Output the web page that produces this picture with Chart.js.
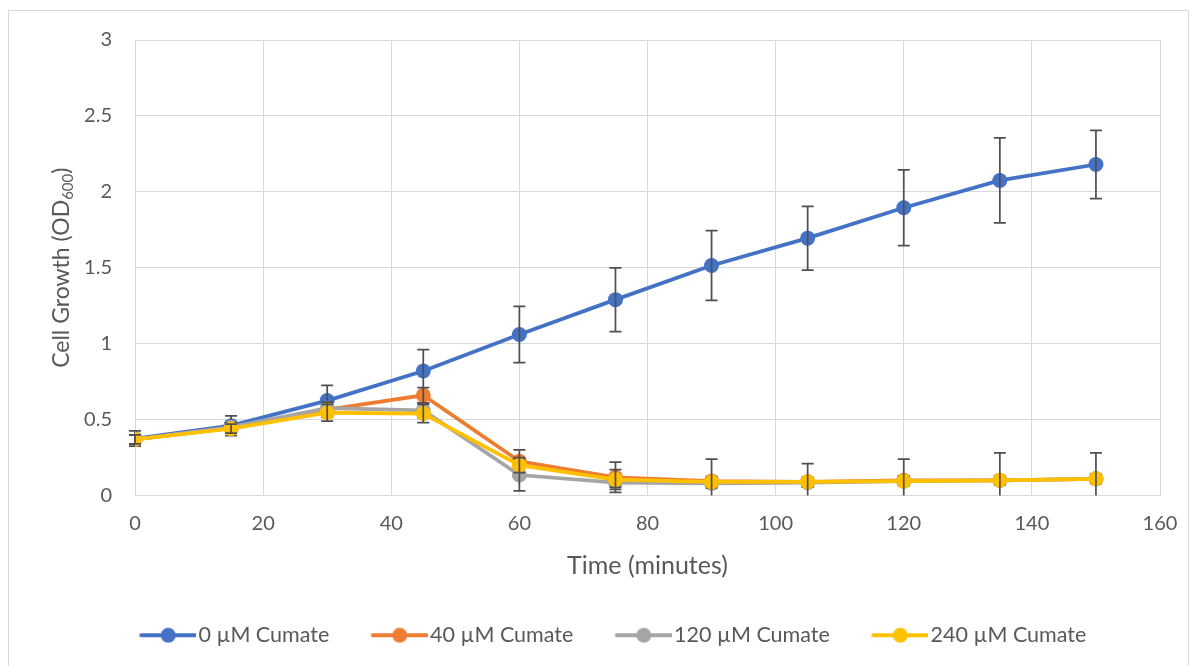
<!DOCTYPE html>
<html>
<head>
<meta charset="utf-8">
<script src="https://cdn.jsdelivr.net/npm/chart.js@4/dist/chart.umd.min.js"></script>
<style>
  html, body { margin: 0; padding: 0; background: #fff; }
  #wrap { position: relative; width: 1197px; height: 666px; }
</style>
</head>
<body>
<div id="wrap"><canvas id="myChart" width="1197" height="666"></canvas></div>
<script>
// time points (minutes)
const times = [0, 15, 30, 45, 60, 75, 90, 105, 120, 135, 150];

const seriesNames = ["0 µM Cumate", "40 µM Cumate", "120 µM Cumate", "240 µM Cumate"];
const seriesColors = ["#4472C4", "#ED7D31", "#A5A5A5", "#FFC000"];

// OD600 readings
const od0 = [0.375, 0.46, 0.625, 0.82, 1.06, 1.29, 1.515, 1.695, 1.895, 2.075, 2.18];
const od40 = [0.37, 0.445, 0.565, 0.66, 0.225, 0.12, 0.095, 0.09, 0.10, 0.10, 0.11];
const od120 = [0.37, 0.45, 0.575, 0.56, 0.135, 0.085, 0.08, 0.085, 0.095, 0.10, 0.11];
const od240 = [0.37, 0.44, 0.545, 0.54, 0.20, 0.105, 0.09, 0.09, 0.095, 0.10, 0.11];

// +/- error (standard deviation)
const err0 = [0.05, 0.065, 0.10, 0.14, 0.185, 0.21, 0.23, 0.21, 0.25, 0.28, 0.225];
const err40 = [0.03, 0.03, 0.05, 0.05, 0.075, 0.10, 0.03, 0.03, 0.03, 0.03, 0.03];
const err120 = [0.03, 0.03, 0.04, 0.05, 0.105, 0.03, 0.03, 0.03, 0.03, 0.03, 0.03];
const err240 = [0.03, 0.03, 0.055, 0.06, 0.05, 0.065, 0.15, 0.12, 0.145, 0.18, 0.17];

const yTicks = [0, 0.5, 1, 1.5, 2, 2.5, 3];
const xTicks = [0, 20, 40, 60, 80, 100, 120, 140, 160];

const values = [od0, od40, od120, od240];
const errors = [err0, err40, err120, err240];

const FONT = "Lato, Carlito, Calibri, 'Open Sans', sans-serif";
const TEXT = "#595959";
const GRID = "#d9d9d9";

// line-with-dot legend swatch; left part is blank so the line sits right next to the text
function swatch(color) {
    const c = document.createElement("canvas");
    c.width = 97;
    c.height = 18;
    const g = c.getContext("2d");
    g.strokeStyle = color;
    g.lineWidth = 4;
    g.lineCap = "round";
    g.beginPath();
    g.moveTo(42, 9);
    g.lineTo(96, 9);
    g.stroke();
    g.fillStyle = color;
    g.beginPath();
    g.arc(69, 9, 7.5, 0, Math.PI * 2);
    g.fill();
    return c;
}

const errorBars = {
    id: "errorBars",
    afterDatasetDraw(chart, args) {
        const i = args.index;
        const err = errors[i];
        const ys = chart.scales.y;
        const xs = chart.scales.x;
        const area = chart.chartArea;
        const ctx = chart.ctx;
        ctx.save();
        ctx.beginPath();
        ctx.rect(area.left - 10, area.top, area.width + 20, area.height);
        ctx.clip();
        ctx.strokeStyle = "#505050";
        ctx.lineWidth = 1.75;
        values[i].forEach((v, k) => {
            const x = xs.getPixelForValue(times[k]);
            const top = ys.getPixelForValue(v + err[k]);
            const bot = ys.getPixelForValue(v - err[k]);
            ctx.beginPath();
            ctx.moveTo(x, top);
            ctx.lineTo(x, bot);
            ctx.moveTo(x - 6, top);
            ctx.lineTo(x + 6, top);
            ctx.moveTo(x - 6, bot);
            ctx.lineTo(x + 6, bot);
            ctx.stroke();
        });
        ctx.restore();
    }
};

const frameAndTitle = {
    id: "frameAndTitle",
    beforeDraw(chart) {
        const ctx = chart.ctx;
        ctx.save();
        ctx.fillStyle = "#fff";
        ctx.fillRect(0, 0, chart.width, chart.height);
        ctx.strokeStyle = GRID;
        ctx.lineWidth = 1;
        ctx.strokeRect(8.5, 10.5, 1180, 700);
        ctx.restore();
    },
    afterDraw(chart) {
        // y axis title with subscript 600
        const ctx = chart.ctx;
        const area = chart.chartArea;
        ctx.save();
        ctx.translate(62, (area.top + area.bottom) / 2);
        ctx.rotate(-Math.PI / 2);
        ctx.fillStyle = TEXT;
        ctx.textBaseline = "middle";
        const big = "23px " + FONT;
        const small = "15px " + FONT;
        const parts = [["Cell Growth (OD", big, 0], ["600", small, 6], [")", big, 0]];
        let total = 0;
        parts.forEach(p => { ctx.font = p[1]; total += ctx.measureText(p[0]).width; });
        let x = -total / 2;
        parts.forEach(p => {
            ctx.font = p[1];
            ctx.textAlign = "left";
            ctx.fillText(p[0], x, p[2]);
            x += ctx.measureText(p[0]).width;
        });
        ctx.restore();
    }
};

const ctx = document.getElementById("myChart");

new Chart(ctx, {
    type: "line",
    data: {
        datasets: values.map((vals, i) => ({
            label: seriesNames[i],
            data: vals.map((v, k) => ({ x: times[k], y: v })),
            borderColor: seriesColors[i],
            backgroundColor: seriesColors[i],
            pointBackgroundColor: seriesColors[i],
            pointBorderColor: seriesColors[i],
            pointStyle: "circle",
            pointRadius: 7.5,
            pointBorderWidth: 0,
            borderWidth: 3.75,
            tension: 0,
            // later series drawn on top, like Excel
            order: values.length - i
        }))
    },
    options: {
        responsive: false,
        animation: false,
        layout: { padding: { top: 40, right: 37, left: 34, bottom: 10 } },
        scales: {
            x: {
                type: "linear",
                min: 0,
                max: 160,
                afterBuildTicks: s => { s.ticks = xTicks.map(v => ({ value: v })); },
                afterFit: s => { s.height = 119; },
                grid: { color: GRID, drawTicks: false },
                border: { color: GRID },
                ticks: { color: TEXT, font: { family: FONT, size: 20 }, padding: 16, maxRotation: 0 },
                title: {
                    display: true,
                    text: "Time (minutes)",
                    color: TEXT,
                    font: { family: FONT, size: 25 },
                    padding: { top: 0, bottom: 34 }
                }
            },
            y: {
                min: 0,
                max: 3,
                afterBuildTicks: s => { s.ticks = yTicks.map(v => ({ value: v })); },
                afterFit: s => { s.width = 101; },
                grid: { color: GRID, drawTicks: false },
                border: { color: GRID },
                ticks: {
                    color: TEXT,
                    font: { family: FONT, size: 20 },
                    padding: 23,
                    callback: v => String(v)
                }
            }
        },
        plugins: {
            legend: {
                position: "bottom",
                labels: {
                    usePointStyle: true,
                    pointStyleWidth: 80,
                    color: TEXT,
                    font: { family: FONT, size: 21.5 },
                    padding: 10,
                    generateLabels: chart => seriesNames.map((name, i) => ({
                        text: name,
                        fillStyle: seriesColors[i],
                        strokeStyle: seriesColors[i],
                        fontColor: TEXT,
                        lineWidth: 0,
                        pointStyle: swatch(seriesColors[i]),
                        datasetIndex: i,
                        hidden: false
                    }))
                }
            },
            tooltip: { enabled: false }
        }
    },
    plugins: [frameAndTitle, errorBars]
});
</script>
</body>
</html>
